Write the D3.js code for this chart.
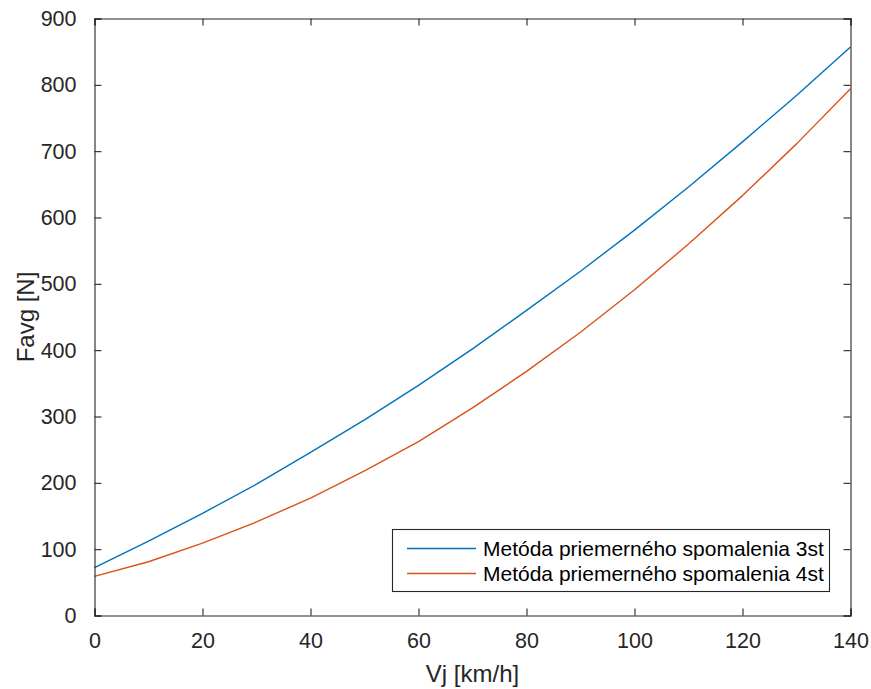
<!DOCTYPE html>
<html>
<head>
<meta charset="utf-8">
<script src="https://cdn.jsdelivr.net/npm/d3@7"></script>
<style>
  html, body { margin: 0; padding: 0; background: #fff; }
  svg { display: block; font-family: "Liberation Sans", Arial, Helvetica, sans-serif; }
</style>
</head>
<body>
<svg id="chart" width="871" height="689"></svg>
<script>
// ---- data ----
const speeds = [0, 10, 20, 30, 40, 50, 60, 70, 80, 90, 100, 110, 120, 130, 140];
const force3st = [72, 112, 154, 198, 246, 295, 347, 402, 460, 519, 581, 646, 714, 784, 857];
const force4st = [59, 81, 109, 141, 177, 218, 262, 313, 368, 427, 491, 560, 633, 711, 794];
const seriesNames = ["Metóda priemerného spomalenia 3st", "Metóda priemerného spomalenia 4st"];
const xTicks = [0, 20, 40, 60, 80, 100, 120, 140];
const yTicks = [0, 100, 200, 300, 400, 500, 600, 700, 800, 900];
const xLabel = "Vj [km/h]";
const yLabel = "Favg [N]";

// ---- layout ----
const svg = d3.select("#chart");
const L = 94.5, R = 850.5, T = 18.5, B = 615.5;
const axisColor = "#262626";
const colors = ["#0072BD", "#D95319"];
const tickFont = 21.5, labelFont = 24, legendFont = 21;

const x = d3.scaleLinear().domain([0, 140]).range([L, R]);
const y = d3.scaleLinear().domain([0, 900]).range([B, T]);

// axes (ticks inward, MATLAB style)
const tickLen = 7;
const xAxis = d3.axisBottom(x).tickValues(xTicks).tickSize(-tickLen).tickPadding(tickLen + 10).tickFormat(d3.format("d"));
const yAxis = d3.axisLeft(y).tickValues(yTicks).tickSize(-tickLen).tickPadding(tickLen + 11).tickFormat(d3.format("d"));
const xAxisTop = d3.axisTop(x).tickValues(xTicks).tickSize(-tickLen).tickFormat("");
const yAxisRight = d3.axisRight(y).tickValues(yTicks).tickSize(-tickLen).tickFormat("");

function styleAxis(g) {
  g.select(".domain").attr("stroke", axisColor).attr("stroke-width", 1.1);
  g.selectAll(".tick line").attr("stroke", axisColor).attr("stroke-width", 1.1);
  g.selectAll(".tick text").attr("fill", axisColor).attr("font-size", tickFont)
    .attr("font-family", "'Liberation Sans', Arial, Helvetica, sans-serif");
}

// curves
const line = d3.line().x((d, i) => x(speeds[i])).y(d => y(d));
[force3st, force4st].forEach((s, k) => {
  svg.append("path").datum(s).attr("d", line)
    .attr("fill", "none").attr("stroke", colors[k]).attr("stroke-width", 1.4)
    .attr("stroke-linejoin", "round");
});

svg.append("g").attr("transform", `translate(0,${B})`).call(xAxis).call(styleAxis);
svg.append("g").attr("transform", `translate(${L},0)`).call(yAxis).call(styleAxis);
svg.append("g").attr("transform", `translate(0,${T})`).call(xAxisTop).call(styleAxis);
svg.append("g").attr("transform", `translate(${R},0)`).call(yAxisRight).call(styleAxis);

// axis labels
svg.append("text").attr("x", (L + R) / 2).attr("y", 682)
  .attr("text-anchor", "middle").attr("font-size", labelFont).attr("fill", axisColor).text(xLabel);
svg.append("text").attr("transform", `translate(34,${(T + B) / 2}) rotate(-90)`)
  .attr("text-anchor", "middle").attr("font-size", labelFont).attr("fill", axisColor).text(yLabel);

// legend
const lg = svg.append("g");
lg.append("rect").attr("x", 392.5).attr("y", 529.5).attr("width", 437).attr("height", 62)
  .attr("fill", "#fff").attr("stroke", axisColor).attr("stroke-width", 1.1);
seriesNames.forEach((name, k) => {
  const cy = 548.5 + k * 25;
  lg.append("line").attr("x1", 407).attr("x2", 476).attr("y1", cy).attr("y2", cy)
    .attr("stroke", colors[k]).attr("stroke-width", 1.4);
  lg.append("text").attr("x", 483).attr("y", cy).attr("dy", "0.35em")
    .attr("font-size", legendFont).attr("fill", "#000").text(name);
});
</script>
</body>
</html>
